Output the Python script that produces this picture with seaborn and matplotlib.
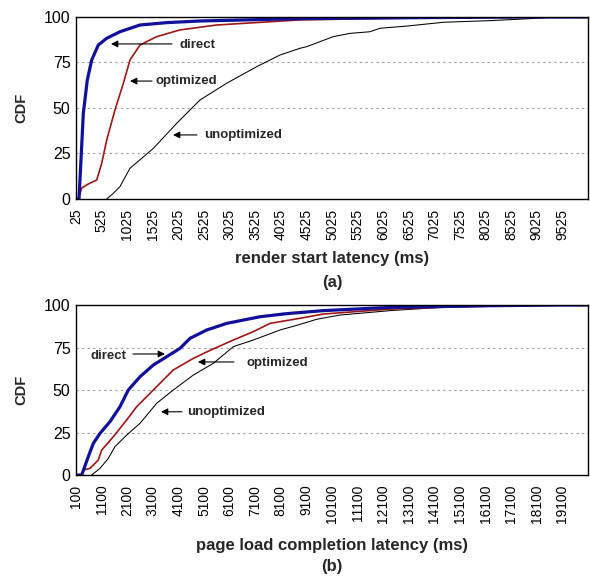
import matplotlib
matplotlib.use("Agg")
import matplotlib.pyplot as plt
import seaborn as sns
import numpy as np

# ---------------- data ----------------
# (a) render start latency
a_direct_ms = [25, 84, 168, 246, 332, 461, 625, 884, 1275, 1796, 2447, 4400, 7000, 9000, 10025]
a_direct_cdf = [0, 0, 47, 65.4, 76.4, 84.6, 88.3, 91.9, 95.6, 96.9, 97.8, 99.1, 99.7, 100, 100]
a_opt_ms = [25, 70, 136, 250, 357, 430, 527, 625, 787, 949, 1080, 1275, 1600, 2056, 2773, 4400, 6000, 8500, 10025]
a_opt_cdf = [0, 0, 6, 8, 9.5, 10.4, 19.6, 32.4, 49, 63.5, 76.4, 84.6, 89.2, 92.9, 95.6, 98.4, 99.2, 100, 100]
a_unopt_ms = [625, 750, 884, 1080, 1535, 1992, 2447, 2968, 3554, 4009, 4400, 4530, 5050, 5376, 5767, 5962, 6483, 7200, 8110, 8755, 9218, 9500, 10025]
a_unopt_cdf = [0, 3, 6.8, 16.9, 27.8, 41.6, 54.4, 63.6, 72.7, 79.1, 82.8, 83.7, 89.2, 91, 91.9, 93.8, 95, 97.1, 98, 98.9, 99.6, 100, 100]

# (b) page load completion latency
b_direct_ms = [100, 323, 580, 776, 1037, 1428, 1819, 2143, 2600, 3119, 3643, 4162, 4553, 5205, 5986, 7287, 8197, 8459, 9760, 12365, 16270, 19000, 20100]
b_direct_cdf = [0, 0, 10.8, 18.6, 24.5, 31.4, 40.2, 50, 57.8, 64.7, 69.6, 74.5, 80.4, 85.3, 89.2, 93.1, 94.7, 95.1, 96.7, 98.6, 99.6, 100, 100]
b_opt_ms = [100, 330, 400, 647, 971, 1104, 1557, 2080, 2471, 3119, 3900, 4682, 5363, 6244, 7025, 7678, 8850, 9760, 12365, 14970, 19000, 20100]
b_opt_cdf = [0, 0, 3, 3.9, 8.8, 14.7, 22.5, 32.4, 40.2, 50, 61.8, 68.6, 73.5, 79.4, 84.3, 89.2, 92.2, 94.7, 97.6, 99, 100, 100]
b_unopt_ms = [713, 1037, 1362, 1623, 2080, 2600, 3252, 3900, 4682, 5463, 6244, 7025, 8068, 8850, 9500, 10413, 12365, 14320, 18000, 20100]
b_unopt_cdf = [0, 3.9, 9.8, 16.7, 23.5, 30.4, 42.2, 50, 58.8, 65.7, 75.5, 79.4, 85.3, 88.6, 91.6, 94.1, 96.7, 98.6, 100, 100]

a_ticks = list(range(25, 10026, 500))
a_ticklabels = [str(t) for t in a_ticks[:-1]] + [""]
b_ticks = list(range(100, 20101, 1000))
b_ticklabels = [str(t) for t in b_ticks[:-1]] + [""]
y_ticks = [0, 25, 50, 75, 100]

# ---------------- style ----------------
sns.set_style("white")
plt.rcParams['font.family'] = ['Liberation Sans', 'DejaVu Sans']

BLUE = "#10109a"
RED = "#a01515"
BLACK = "#000000"

fig = plt.figure(figsize=(5.9, 5.8), dpi=100)
ax1 = fig.add_axes([0.1288, 0.6569, 0.8678, 0.3138])
ax2 = fig.add_axes([0.1288, 0.1810, 0.8678, 0.2931])


def style_axes(ax, ticks, labels):
    ax.set_ylim(0, 100)
    ax.set_xlim(ticks[0], ticks[-1])
    ax.set_xticks(ticks)
    ax.set_xticklabels(labels, rotation=90, fontsize=10)
    ax.set_yticks(y_ticks)
    ax.set_yticklabels([str(v) for v in y_ticks], fontsize=11.5)
    for v in [25, 50, 75]:
        ax.axhline(v, color="#9a9a9a", lw=0.8, ls=(0, (2, 3)), zorder=0)
    for s in ax.spines.values():
        s.set_color("black")
        s.set_linewidth(1.0)
    ax.tick_params(axis="x", direction="out", length=4, width=0.8, pad=3, colors="black")
    ax.tick_params(axis="y", direction="out", length=0, width=0.8, pad=4, colors="black")
    ax.set_xlabel("")
    ax.set_ylabel("")


def draw(ax, xs, ys, color, lw):
    sns.lineplot(x=xs, y=ys, ax=ax, color=color, linewidth=lw, estimator=None, sort=False)


draw(ax1, a_unopt_ms, a_unopt_cdf, BLACK, 0.75)
draw(ax1, a_opt_ms, a_opt_cdf, RED, 1.2)
draw(ax1, a_direct_ms, a_direct_cdf, BLUE, 2.3)
style_axes(ax1, a_ticks, a_ticklabels)

draw(ax2, b_unopt_ms, b_unopt_cdf, BLACK, 0.75)
draw(ax2, b_opt_ms, b_opt_cdf, RED, 1.2)
draw(ax2, b_direct_ms, b_direct_cdf, BLUE, 2.3)
style_axes(ax2, b_ticks, b_ticklabels)

arrow = dict(arrowstyle="-|>", color="black", lw=0.8, mutation_scale=10, shrinkA=0, shrinkB=0)
afont = dict(fontsize=9.5, fontweight="bold", va="center", ha="left")

# (a) annotations
ax1.annotate("", xy=(708, 85.2), xytext=(1900, 85.2), arrowprops=arrow)
ax1.text(2056, 84.6, "direct", **afont)
ax1.annotate("", xy=(1080, 64.8), xytext=(1509, 64.8), arrowprops=arrow)
ax1.text(1587, 64.8, "optimized", **afont)
ax1.annotate("", xy=(1920, 35.2), xytext=(2388, 35.2), arrowprops=arrow)
ax1.text(2525, 35.2, "unoptimized", **afont)

# (b) annotations
ax2.text(686, 70.2, "direct", **afont)
ax2.annotate("", xy=(3576, 71.2), xytext=(2326, 71.2), arrowprops=arrow)
ax2.annotate("", xy=(4865, 66.5), xytext=(6271, 66.5), arrowprops=arrow)
ax2.text(6779, 65.9, "optimized", **afont)
ax2.annotate("", xy=(3420, 37.2), xytext=(4240, 37.2), arrowprops=arrow)
ax2.text(4436, 37.2, "unoptimized", **afont)

# axis titles
lab = dict(fontsize=12, fontweight="bold", ha="center", va="center")
fig.text(0.5627, 0.555, "render start latency (ms)", **lab)
fig.text(0.5627, 0.513, "(a)", **lab)
fig.text(0.5627, 0.0603, "page load completion latency (ms)", **lab)
fig.text(0.5627, 0.023, "(b)", **lab)
ylab = dict(fontsize=10.5, fontweight="bold", ha="center", va="center", rotation=90)
fig.text(0.037, 1 - 108 / 580, "CDF", **ylab)
fig.text(0.037, 1 - 390 / 580, "CDF", **ylab)

fig.savefig("out.png", dpi=100)
